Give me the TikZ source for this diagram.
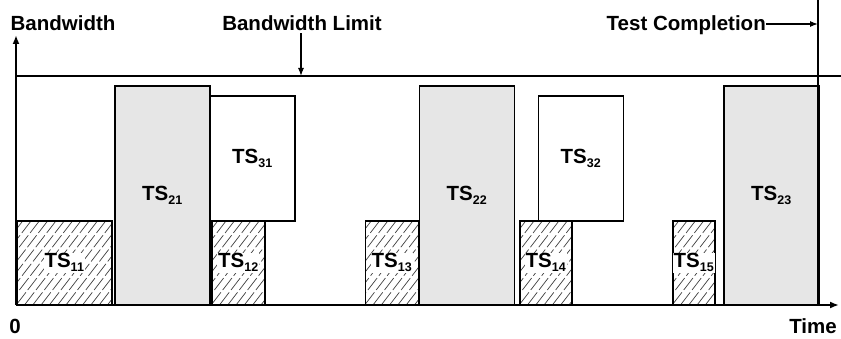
\documentclass[tikz,border=0pt]{standalone}
\usepackage{fontspec}
\setmainfont{Liberation Sans}
\usetikzlibrary{arrows.meta,calc}

\newcommand{\tslab}[1]{TS\raisebox{-4pt}{\fontsize{12.5}{14}\selectfont #1}}

\definecolor{boxgray}{HTML}{E6E6E6}

\tikzset{
  lbl/.style={font=\fontsize{20.5}{24}\selectfont\bfseries, inner sep=0pt},
  tsl/.style={font=\fontsize{20.5}{24}\selectfont\bfseries, inner sep=1pt},
  tslw/.style={tsl, fill=white},
  slot/.style={draw=black, line width=1.5pt, anchor=south west, inner sep=0pt},
  graybox/.style={slot, fill=boxgray},
  whitebox/.style={slot, fill=white},
  hatchbox/.style={slot, fill=white,
    path picture={
      \foreach \k in {-12,...,14}
        \draw[line width=0.7pt, black!75, dash pattern=on 15pt off 3pt]
          ($(path picture bounding box.south west)+(\k*8.3pt,0pt)$) -- +(80pt,104pt);
    }},
  axis/.style={line width=2pt, -{Latex[length=9pt,width=7pt]}},
  pointer/.style={line width=1.2pt, -{Latex[length=8pt,width=6pt]}},
}

\begin{document}
\begin{tikzpicture}[x=1pt,y=-1pt]
  \useasboundingbox (0,0) rectangle (841,339);

  % time slots: hatched, gray and white blocks
  \node[hatchbox, minimum width=95, minimum height=83] (ts11) at (16,305) {};
  \node[graybox,  minimum width=95, minimum height=218] (ts21) at (114,305) {};
  \node[whitebox, minimum width=85, minimum height=125] (ts31) at (209,222) {};
  \node[hatchbox, minimum width=53, minimum height=83] (ts12) at (211,305) {};
  \node[hatchbox, minimum width=53, minimum height=83] (ts13) at (364.5,305) {};
  \node[graybox,  minimum width=95, minimum height=218] (ts22) at (418.5,305) {};
  \node[whitebox, minimum width=85, minimum height=125] (ts32) at (537.5,222) {};
  \node[hatchbox, minimum width=52, minimum height=83] (ts14) at (519,305) {};
  \node[hatchbox, minimum width=42, minimum height=83] (ts15) at (672,305) {};
  \node[graybox,  minimum width=95, minimum height=218] (ts23) at (723,305) {};

  % slot labels
  \node[tslw] (l11) at (ts11.center) {\tslab{11}};
  \node[tsl]  (l21) at (ts21.center) {\tslab{21}};
  \node[tsl]  (l31) at (ts31.center) {\tslab{31}};
  \node[tslw] (l12) at (ts12.center) {\tslab{12}};
  \node[tslw] (l13) at (ts13.center) {\tslab{13}};
  \node[tsl]  (l22) at (ts22.center) {\tslab{22}};
  \node[tsl]  (l32) at (ts32.center) {\tslab{32}};
  \node[tslw] (l14) at (ts14.center) {\tslab{14}};
  \node[tslw] (l15) at (ts15.center) {\tslab{15}};
  \node[tsl]  (l23) at (ts23.center) {\tslab{23}};

  % axes
  \coordinate (o) at (16,305);
  \coordinate (ytip) at (16,35);
  \coordinate (xtip) at (839,305);
  \draw[axis] (o) -- (ytip);
  \draw[axis] (o) -- (xtip);

  % bandwidth limit and test completion lines
  \coordinate (limL) at (16,76);
  \coordinate (limR) at (841,76);
  \draw[line width=1.5pt] (limL) -- (limR);
  \coordinate (endT) at (818,0);
  \coordinate (endB) at (818,305);
  \draw[line width=1.5pt] (endT) -- (endB);

  % axis and pointer labels
  \node[lbl, anchor=base] (bw) at (63,31) {Bandwidth};
  \node[lbl, anchor=base] (bwl) at (302,31) {Bandwidth Limit};
  \node[lbl, anchor=base east] (tc) at (766,31) {Test Completion};
  \node[lbl, anchor=base] (zero) at (15,333) {0};
  \node[lbl, anchor=base east] (time) at (837,333) {Time};

  \coordinate (limpt) at (301,76);
  \draw[pointer] (bwl.south -| limpt) ++(0,2) -- (limpt);
  \coordinate (tcpt) at (818,24);
  \draw[pointer] (tc.east |- tcpt) -- (tcpt);
\end{tikzpicture}
\end{document}
